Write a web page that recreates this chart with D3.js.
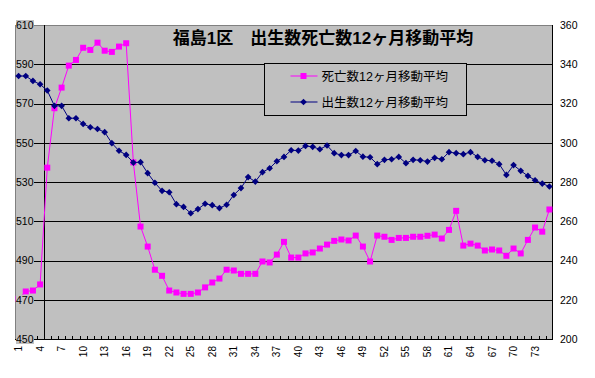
<!DOCTYPE html>
<meta charset="utf-8">
<style>
  body { margin: 0; background: #fff; }
  text { font-family: "Liberation Sans", Arial, "Noto Sans CJK JP", sans-serif; }
</style>
<svg id="chart" width="595" height="378"></svg>
<script src="https://cdn.jsdelivr.net/npm/d3@7/dist/d3.min.js"></script>
<script>

var title = "福島1区　出生数死亡数12ヶ月移動平均";
var deathName = "死亡数12ヶ月移動平均";
var birthName = "出生数12ヶ月移動平均";

var categories = d3.range(1, 76);
var xTickLabels = [1, 4, 7, 10, 13, 16, 19, 22, 25, 28, 31, 34, 37, 40, 43, 46, 49, 52, 55, 58, 61, 64, 67, 70, 73];
var leftTicks = [450, 470, 490, 510, 530, 550, 570, 590, 610];
var rightTicks = [200, 220, 240, 260, 280, 300, 320, 340, 360];

// 死亡数 (左軸)
var deaths = [470.5, 474.2, 474.7, 477.8, 537.3, 567.6, 578.1, 589.3, 592.2, 598.4,
  597.3, 601.0, 596.9, 596.3, 599.0, 600.7, 540.0, 507.3, 497.1, 485.3,
  482.2, 474.7, 473.7, 473.0, 473.0, 473.7, 476.3, 478.8, 480.8, 485.3,
  484.9, 483.2, 483.2, 483.2, 489.5, 489.0, 493.0, 499.5, 491.5, 491.5,
  493.6, 494.1, 496.1, 498.1, 500.0, 500.7, 500.2, 502.7, 497.1, 489.5,
  502.7, 502.1, 500.5, 501.5, 501.5, 502.1, 502.1, 502.6, 503.2, 501.2,
  505.6, 515.3, 497.6, 498.6, 497.6, 495.1, 495.6, 495.1, 492.4, 496.1,
  493.6, 500.5, 506.8, 504.7, 516.0];

// 出生数 (右軸)
var births = [334.0, 334.0, 331.5, 329.8, 326.6, 318.8, 318.8, 312.5, 312.5, 309.6,
  307.9, 307.0, 305.4, 299.8, 295.9, 293.8, 289.9, 290.1, 284.5, 279.6,
  275.5, 274.8, 268.7, 267.3, 264.1, 266.2, 268.9, 268.2, 266.7, 268.4,
  273.4, 276.9, 282.5, 280.2, 285.0, 287.0, 290.6, 292.8, 296.2, 296.0,
  298.4, 297.9, 296.7, 298.6, 294.7, 293.7, 293.7, 295.8, 292.9, 292.6,
  289.1, 291.3, 291.6, 292.8, 289.6, 291.3, 291.1, 290.4, 292.3, 291.6,
  295.2, 294.7, 294.2, 295.2, 292.8, 291.1, 290.8, 289.1, 283.6, 288.6,
  285.7, 283.1, 280.9, 279.2, 277.7];

var axisCrossCategory = 5;

var svg = d3.select("#chart");
var pLeft = 15, pRight = 553, pTop = 25, pBottom = 339;

var x = d3.scaleBand().domain(categories).range([pLeft, pRight]).padding(0);
var yL = d3.scaleLinear().domain([450, 610]).range([pBottom, pTop]);
var yR = d3.scaleLinear().domain([200, 360]).range([pBottom, pTop]);
var cx = function(i){ return x(categories[i]) + x.bandwidth() / 2; };

// plot area
svg.append("rect")
  .attr("x", pLeft).attr("y", pTop)
  .attr("width", pRight - pLeft).attr("height", pBottom - pTop)
  .attr("fill", "#c0c0c0");

svg.append("clipPath").attr("id", "clip")
  .append("rect").attr("x", pLeft).attr("y", pTop)
  .attr("width", pRight - pLeft).attr("height", pBottom - pTop);

// gridlines
svg.append("g").selectAll("line")
  .data(leftTicks.slice(1, -1))
  .enter().append("line")
  .attr("x1", pLeft).attr("x2", pRight - 1)
  .attr("y1", function(d){ return Math.round(yL(d)) + 0.5; })
  .attr("y2", function(d){ return Math.round(yL(d)) + 0.5; })
  .attr("stroke", "#000").attr("stroke-width", 1);

// border
svg.append("line").attr("x1", pLeft).attr("x2", pRight).attr("y1", pTop + 0.5).attr("y2", pTop + 0.5)
  .attr("stroke", "#808080");
svg.append("line").attr("x1", pLeft + 0.5).attr("x2", pLeft + 0.5).attr("y1", pTop).attr("y2", pBottom)
  .attr("stroke", "#808080");

// primary value axis line
var ax = Math.round(x(axisCrossCategory)) + 0.5;
svg.append("line").attr("x1", ax).attr("x2", ax).attr("y1", pTop).attr("y2", pBottom)
  .attr("stroke", "#000");
// secondary value axis line
svg.append("line").attr("x1", pRight - 0.5).attr("x2", pRight - 0.5).attr("y1", pTop).attr("y2", pBottom + 0.5)
  .attr("stroke", "#000");
// category axis
svg.append("line").attr("x1", pLeft).attr("x2", pRight).attr("y1", pBottom + 0.5).attr("y2", pBottom + 0.5)
  .attr("stroke", "#000");

// category ticks (inside)
svg.append("g").selectAll("line")
  .data(categories.slice(1))
  .enter().append("line")
  .attr("x1", function(d){ return Math.round(x(d)) + 0.5; })
  .attr("x2", function(d){ return Math.round(x(d)) + 0.5; })
  .attr("y1", pBottom).attr("y2", pBottom - 3)
  .attr("stroke", "#000");

// series
var plot = svg.append("g").attr("clip-path", "url(#clip)");

var deathLine = d3.line().x(function(d, i){ return cx(i); }).y(function(d){ return yL(d); });
var birthLine = d3.line().x(function(d, i){ return cx(i); }).y(function(d){ return yR(d); });

plot.append("path").datum(deaths).attr("d", deathLine)
  .attr("fill", "none").attr("stroke", "#ff00ff").attr("stroke-width", 1);
plot.append("g").selectAll("rect").data(deaths).enter().append("rect")
  .attr("x", function(d, i){ return cx(i) - 3; })
  .attr("y", function(d){ return yL(d) - 3; })
  .attr("width", 6).attr("height", 6)
  .attr("fill", "#ff00ff");

plot.append("path").datum(births).attr("d", birthLine)
  .attr("fill", "none").attr("stroke", "#000080").attr("stroke-width", 1);
var diamond = d3.symbol().type(d3.symbolDiamond2).size(28);
plot.append("g").selectAll("path").data(births).enter().append("path")
  .attr("d", diamond)
  .attr("transform", function(d, i){ return "translate(" + cx(i) + "," + yR(d) + ")"; })
  .attr("fill", "#000080");

// left axis labels (drawn over plot)
var lg = svg.append("g");
leftTicks.forEach(function(v){
  var g = lg.append("g").attr("transform", "translate(16," + yL(v) + ")");
  g.append("rect").attr("x", 0).attr("y", -5).attr("width", 18).attr("height", 10)
    .attr("fill", "#c0c0c0");
  g.append("text").attr("dy", "0.36em").attr("font-size", 10.5).attr("fill", "#000").text(v);
});

// right axis labels
svg.append("g").attr("transform", "translate(" + (pRight - 1) + ",0)")
  .call(d3.axisRight(yR).tickValues(rightTicks).tickSize(0).tickPadding(8))
  .call(function(g){
    g.select(".domain").remove();
    g.selectAll("text").attr("font-size", 10.5).attr("fill", "#000")
      .attr("font-family", "Liberation Sans, Arial, sans-serif");
  });

// category labels
svg.append("g").attr("transform", "translate(0," + pBottom + ")")
  .call(d3.axisBottom(x).tickValues(xTickLabels).tickSize(0))
  .call(function(g){
    g.select(".domain").remove();
    g.selectAll("text")
      .attr("font-size", 10).attr("fill", "#000")
      .attr("font-family", "Liberation Sans, Arial, sans-serif")
      .attr("text-anchor", "end")
      .attr("transform", "rotate(-90)")
      .attr("x", -7).attr("y", 0).attr("dy", "0.35em");
  });

// title
svg.append("text")
  .attr("x", 323).attr("y", 44)
  .attr("text-anchor", "middle")
  .attr("font-size", 17).attr("font-weight", "bold")
  .attr("fill", "#000")
  .text(title);

// legend
var legend = svg.append("g").attr("transform", "translate(264.5,63.5)");
legend.append("rect").attr("width", 202).attr("height", 52)
  .attr("fill", "#c0c0c0").attr("stroke", "#000");
var items = [
  { name: deathName, color: "#ff00ff", marker: "square" },
  { name: birthName, color: "#000080", marker: "diamond" }
];
items.forEach(function(d, i){
  var yy = 12.5 + i * 26;
  legend.append("line").attr("x1", 26).attr("x2", 53).attr("y1", yy).attr("y2", yy)
    .attr("stroke", d.color);
  if (d.marker === "square") {
    legend.append("rect").attr("x", 36).attr("y", yy - 3).attr("width", 6).attr("height", 6)
      .attr("fill", d.color);
  } else {
    legend.append("path").attr("d", diamond)
      .attr("transform", "translate(39," + yy + ")").attr("fill", d.color);
  }
  legend.append("text").attr("x", 57).attr("y", yy).attr("dy", "0.38em")
    .attr("font-size", 12.5).attr("fill", "#000").text(d.name);
});

</script>
